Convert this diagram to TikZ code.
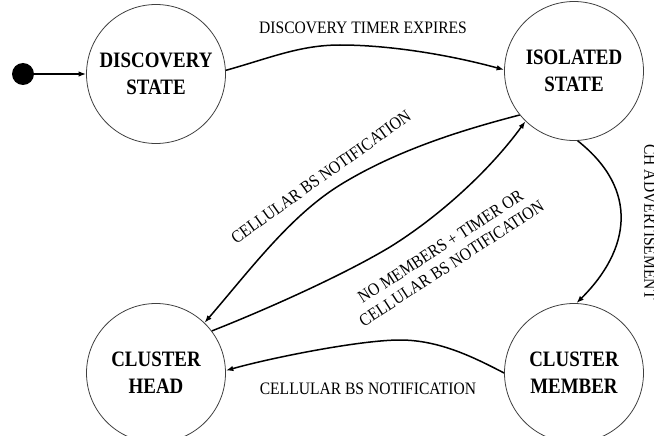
\documentclass[tikz,border=0pt]{standalone}
\usepackage{fontspec}
\setmainfont{Liberation Serif}
\newfontfamily\statefont[FakeStretch=0.86]{Liberation Serif}
\newfontfamily\labelfont[FakeStretch=0.89]{Liberation Serif}
\usetikzlibrary{arrows.meta}
\begin{document}
\begin{tikzpicture}[x=1pt,y=-1pt,
  state/.style={circle, draw=black!75, line width=0.8pt, minimum size=139pt, inner sep=0pt, align=center,
    font=\statefont\bfseries\fontsize{22}{27}\selectfont},
  trans/.style={line width=1.5pt, -{Latex[length=7.5pt,width=5.5pt]}},
  lbl/.style={inner sep=0pt, align=center, font=\labelfont\fontsize{17.5}{20}\selectfont}]
\useasboundingbox (0,0) rectangle (654,436);
\clip (0,0) rectangle (654,436);

\node[circle, fill=black, minimum size=22pt, inner sep=0pt] (init) at (23,74) {};
\node[state] (disc) at (156,74) {DISCOVERY\\STATE};
\node[state] (iso) at (574,71) {ISOLATED\\STATE};
\node[state] (head) at (156,373) {CLUSTER\\HEAD};
\node[state] (member) at (574,373) {CLUSTER\\MEMBER};

\draw[trans] (init) -- (disc);
\draw[trans] (disc.3) .. controls (270,58) and (300,45) .. (340,45)
  .. controls (390,45) and (450,55) .. (iso.179);
\draw[trans] (iso.219) .. controls (470,128) and (400,148) .. (340,185)
  .. controls (290,216) and (250,270) .. (head.46);
\draw[trans] (head.37) .. controls (260,312) and (340,277) .. (390,247)
  .. controls (440,216) and (490,170) .. (iso.226);
\draw[trans] (iso.-87) .. controls (640,190) and (630,250) .. (member.88);
\draw[trans] (member.180) .. controls (475,358) and (440,340) .. (400,340)
  .. controls (360,340) and (270,358) .. (head.2);

\node[lbl] (l1) at (363,28) {DISCOVERY TIMER EXPIRES};
\node[lbl, rotate=35.5] (l2) at (321,177) {CELLULAR BS NOTIFICATION};
\node[lbl, rotate=33] (l3) at (446,255) {NO MEMBERS + TIMER OR\\CELLULAR BS NOTIFICATION};
\node[lbl, rotate=-90] (l4) at (650,222) {CH ADVERTISEMENT};
\node[lbl] (l5) at (368,389) {CELLULAR BS NOTIFICATION};
\end{tikzpicture}
\end{document}
